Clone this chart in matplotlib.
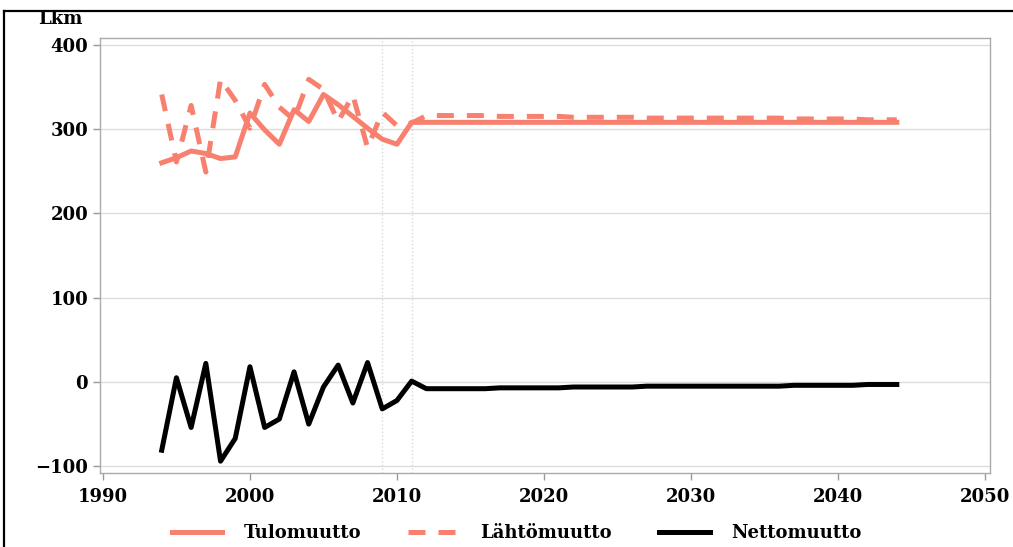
import matplotlib.pyplot as plt
from matplotlib.lines import Line2D

# Vuodet ja muuttoluvut (luettu kuvasta)
vuodet = list(range(1994, 2045))

tulomuutto = [260, 266, 274, 271, 265, 267, 319, 299, 282, 323, 309, 341, 329, 315, 301, 288, 282, 308,
              308, 308, 308, 308, 308, 308, 308, 308, 308, 308, 308, 308, 308, 308, 308, 308, 308,
              308, 308, 308, 308, 308, 308, 308, 308, 308, 308, 308, 308, 308, 308, 308, 308]

lahtomuutto = [341, 261, 328, 249, 359, 334, 301, 353, 326, 311, 359, 347, 309, 340, 278, 320, 304, 307,
               316, 316, 316, 316, 316, 315, 315, 315, 315, 315, 314, 314, 314, 314, 314,
               313, 313, 313, 313, 313, 313, 313, 313, 313, 313, 312, 312, 312, 312, 312, 311, 311, 311]

nettomuutto = [-81, 5, -54, 22, -94, -67, 18, -54, -44, 12, -50, -6, 20, -25, 23, -32, -22, 1,
               -8, -8, -8, -8, -8, -7, -7, -7, -7, -7, -6, -6, -6, -6, -6,
               -5, -5, -5, -5, -5, -5, -5, -5, -5, -5, -4, -4, -4, -4, -4, -3, -3, -3]

x_ticks = [1990, 2000, 2010, 2020, 2030, 2040, 2050]
y_ticks = [-100, 0, 100, 200, 300, 400]
raja_vuodet = [2009, 2011]

lohi = '#F7806F'
plt.rcParams['font.family'] = 'DejaVu Serif'
plt.rcParams['font.weight'] = 'bold'

fig = plt.figure(figsize=(10.13, 5.47), dpi=100)
ax = fig.add_axes([0.0987, 0.1353, 0.8786, 0.7952])

for v in raja_vuodet:
    ax.axvline(v, color='#d8d8d8', linestyle=':', linewidth=1, zorder=1)
for y in y_ticks:
    ax.axhline(y, color='#dcdcdc', linewidth=1, zorder=1)

ax.plot(vuodet, tulomuutto, color=lohi, linewidth=3.6, zorder=3)
ax.plot(vuodet, lahtomuutto, color=lohi, linewidth=3.6, dashes=(3.4, 2.6), dash_capstyle='butt', zorder=3)
ax.plot(vuodet, nettomuutto, color='black', linewidth=3.6, zorder=3)

ax.set_xlim(1989.8, 2050.34)
ax.set_ylim(-108, 408)
ax.set_xticks(x_ticks)
ax.set_yticks(y_ticks)
ax.tick_params(axis='both', colors='#999999', labelcolor='black', labelsize=13, length=5, width=1)
ax.tick_params(axis='x', pad=6)
for s in ax.spines.values():
    s.set_color('#aaaaaa')
    s.set_linewidth(1)

fig.text(0.038, 0.965, 'Lkm', fontsize=13, fontweight='bold', va='center', ha='left')

kahvat = [Line2D([], [], color=lohi, linewidth=3.6),
          Line2D([], [], color=lohi, linewidth=3.6, dashes=(3.4, 2.6)),
          Line2D([], [], color='black', linewidth=3.6)]
fig.legend(kahvat, ['Tulomuutto', 'Lähtömuutto', 'Nettomuutto'], loc='center',
           bbox_to_anchor=(0.51, 0.025), ncol=3, frameon=False, fontsize=13,
           handlelength=2.8, handletextpad=1.2, columnspacing=2.6)

# Kehys kuvan ympärillä
fig.add_artist(Line2D([0.004, 1.0], [0.980, 0.980], color='black', linewidth=1.6, transform=fig.transFigure))
fig.add_artist(Line2D([0.004, 0.004], [0.0, 0.980], color='black', linewidth=1.6, transform=fig.transFigure))

fig.savefig('out.png', dpi=100)
